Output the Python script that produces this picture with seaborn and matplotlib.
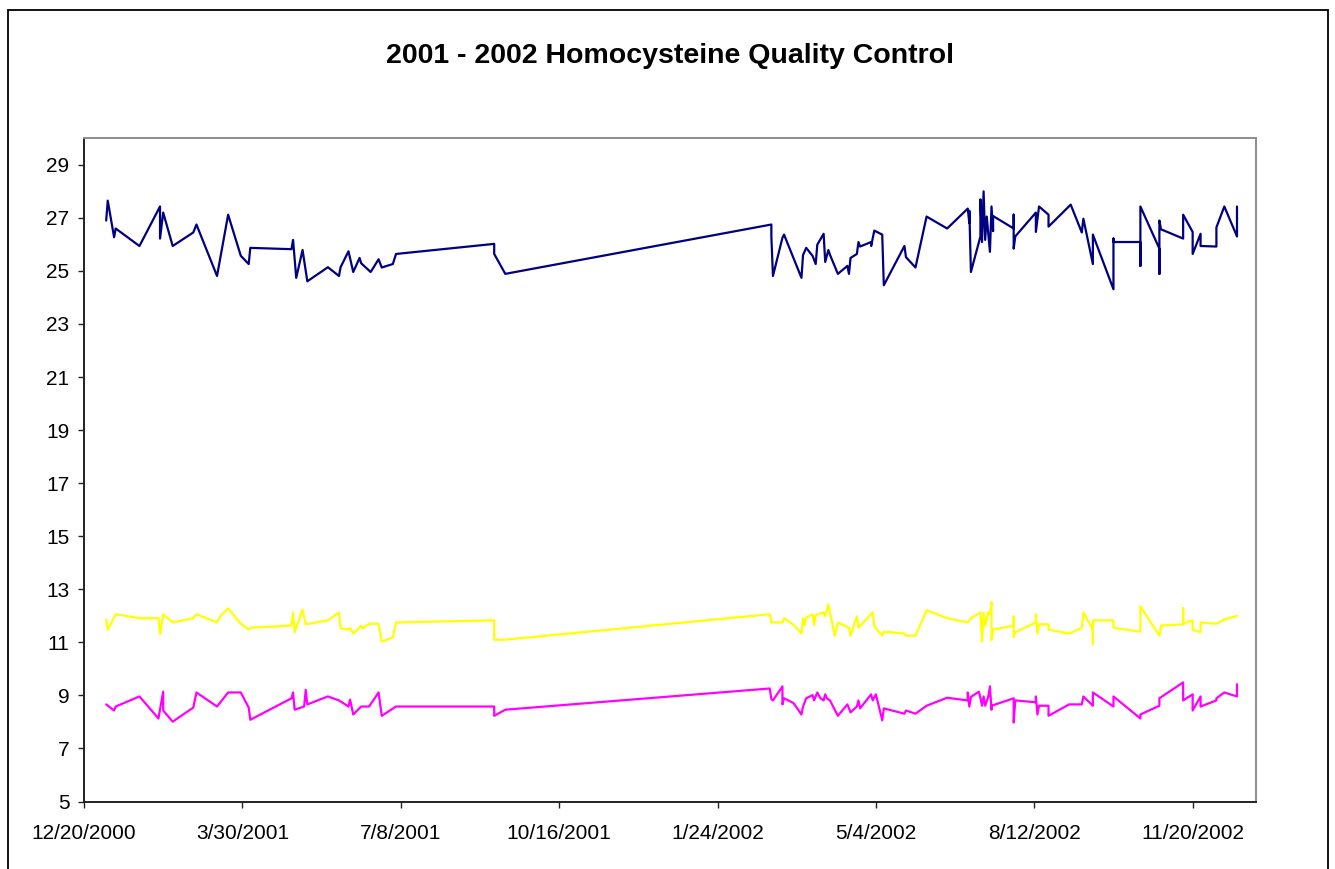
import matplotlib
matplotlib.use("Agg")
import matplotlib.pyplot as plt
import seaborn as sns
import pandas as pd
import numpy as np
from matplotlib.patches import Rectangle

# ---------------- data (days since 12/20/2000, values) ----------------
start_date = "2000-12-20"

high_days = [14, 15, 19, 20, 35, 48, 48, 50, 56, 69, 71, 84, 91, 99, 104, 105,
             131, 132, 134, 138, 141, 154, 161, 162, 167, 170, 174, 175, 181, 186,
             188, 195, 197, 259, 259, 266, 434, 434, 435, 441, 442, 453, 454, 456,
             460, 462, 463, 467, 468, 470, 471, 476, 482, 483, 484, 488, 489, 490,
             497, 497, 499, 504, 505, 518, 519, 525, 532, 545, 558, 559, 559, 560,
             566, 566, 567, 568, 569, 570, 572, 573, 574, 574, 587, 587, 587, 588,
             601, 601, 603, 609, 609, 623, 630, 631, 637, 637, 650, 650, 650, 667,
             667, 667, 679, 679, 679, 680, 694, 694, 700, 700, 705, 705, 715, 715,
             720, 728, 728]
high_vals = [26.9, 27.65, 26.27, 26.6, 25.94, 27.43, 26.22, 27.2, 25.94, 26.45, 26.75,
             24.81, 27.12, 25.57, 25.26, 25.87, 25.82, 26.17, 24.74, 25.79, 24.61,
             25.14, 24.81, 25.14, 25.74, 24.96, 25.49, 25.29, 24.96, 25.44, 25.13,
             25.26, 25.64, 26.02, 25.64, 24.89, 26.75, 26.3, 24.81, 26.25, 26.37,
             24.74, 25.6, 25.87, 25.57, 25.26, 25.99, 26.4, 25.34, 25.79, 25.61,
             24.89, 25.19, 24.89, 25.49, 25.64, 26.09, 25.92, 26.09, 25.94, 26.52,
             26.37, 24.46, 25.94, 25.52, 25.13, 27.05, 26.6, 27.35, 26.8, 27.27,
             24.96, 26.3, 27.7, 26.09, 28.0, 26.17, 27.05, 25.72, 27.43, 26.5, 27.07,
             26.6, 27.12, 25.84, 26.3, 27.2, 26.47, 27.43, 27.12, 26.67, 27.5, 26.45,
             26.97, 25.26, 26.37, 24.31, 26.22, 26.09, 26.09, 25.19, 27.43, 25.84,
             24.89, 26.9, 26.57, 26.22, 27.12, 26.47, 25.64, 26.4, 25.94, 25.92,
             26.64, 27.43, 26.3, 27.43]

mid_days = [14, 15, 20, 35, 47, 48, 50, 56, 69, 71, 84, 86, 91, 99, 104, 105,
            131, 132, 133, 138, 140, 154, 161, 162, 167, 168, 170, 175, 176, 180,
            186, 188, 195, 197, 259, 259, 266, 433, 434, 441, 442, 448, 453, 454,
            455, 456, 460, 461, 462, 467, 468, 470, 474, 476, 483, 484, 488, 489,
            498, 499, 504, 505, 518, 519, 525, 532, 545, 558, 560, 566, 567, 568,
            569, 571, 572, 573, 573, 574, 587, 587, 587, 588, 601, 601, 602, 603,
            609, 609, 622, 630, 631, 637, 637, 637, 650, 650, 667, 667, 679, 680,
            694, 694, 694, 700, 700, 705, 705, 715, 720, 728]
mid_vals = [11.86, 11.48, 12.06, 11.91, 11.91, 11.3, 12.06, 11.75, 11.91, 12.06,
            11.75, 11.98, 12.28, 11.7, 11.48, 11.55, 11.63, 12.13, 11.38, 12.23,
            11.68, 11.83, 12.13, 11.53, 11.48, 11.55, 11.33, 11.63, 11.53, 11.7,
            11.7, 11.03, 11.18, 11.75, 11.83, 11.1, 11.1, 12.06, 11.75, 11.75,
            11.91, 11.66, 11.33, 11.91, 11.66, 11.93, 12.06, 11.66, 12.03, 12.13,
            11.98, 12.43, 11.25, 11.75, 11.55, 11.25, 11.98, 11.55, 12.13, 11.6,
            11.25, 11.4, 11.33, 11.25, 11.25, 12.21, 11.91, 11.75, 11.91, 12.13,
            11.03, 12.13, 11.63, 12.13, 12.06, 12.51, 11.08, 11.48, 11.63, 11.98,
            11.2, 11.38, 11.75, 12.06, 11.33, 11.68, 11.68, 11.48, 11.33, 11.55,
            12.13, 11.48, 10.95, 11.83, 11.83, 11.55, 11.4, 12.36, 11.25, 11.63,
            11.68, 12.28, 11.7, 11.83, 11.48, 11.38, 11.75, 11.7, 11.86, 12.0]

low_days = [14, 19, 20, 35, 47, 50, 50, 56, 69, 71, 84, 91, 99, 104, 105, 131,
            132, 133, 139, 140, 141, 154, 161, 167, 168, 170, 175, 180, 186, 188,
            197, 259, 259, 266, 433, 434, 435, 441, 441, 442, 448, 453, 454, 456,
            460, 461, 463, 465, 467, 468, 469, 471, 476, 482, 484, 488, 489, 490,
            497, 498, 500, 504, 505, 518, 519, 525, 532, 545, 558, 558, 559, 560,
            565, 566, 567, 568, 569, 571, 572, 573, 573, 587, 587, 588, 601, 601,
            602, 603, 609, 609, 622, 630, 631, 637, 637, 650, 650, 667, 667, 679,
            679, 694, 694, 700, 700, 705, 705, 715, 715, 720, 728, 728]
low_vals = [8.66, 8.43, 8.58, 8.96, 8.13, 9.14, 8.43, 8.01, 8.54, 9.11, 8.58, 9.11,
            9.11, 8.54, 8.08, 8.89, 9.11, 8.46, 8.58, 9.21, 8.66, 8.96, 8.81, 8.58,
            8.84, 8.28, 8.58, 8.58, 9.11, 8.23, 8.58, 8.58, 8.23, 8.46, 9.26, 8.86,
            8.81, 9.34, 8.66, 8.89, 8.71, 8.28, 8.58, 8.89, 9.01, 8.81, 9.11, 8.89,
            8.81, 9.04, 8.89, 8.81, 8.23, 8.66, 8.36, 8.58, 8.81, 8.51, 9.04, 8.81,
            9.04, 8.06, 8.51, 8.31, 8.43, 8.31, 8.61, 8.91, 8.81, 9.11, 8.58, 8.94,
            9.14, 8.91, 8.61, 8.96, 8.61, 8.96, 9.34, 8.46, 8.61, 8.89, 7.98, 8.81,
            8.74, 8.96, 8.28, 8.61, 8.61, 8.23, 8.66, 8.66, 8.96, 8.61, 9.11, 8.58,
            8.96, 8.13, 8.28, 8.61, 8.89, 9.49, 8.81, 9.04, 8.43, 8.96, 8.58, 8.81,
            8.89, 9.11, 8.96, 9.42]

x_tick_labels = ["12/20/2000", "3/30/2001", "7/8/2001", "10/16/2001", "1/24/2002",
                 "5/4/2002", "8/12/2002", "11/20/2002"]
x_max_date = "12/30/2002"
y_ticks = [5, 7, 9, 11, 13, 15, 17, 19, 21, 23, 25, 27, 29]
y_limits = (5, 30)
title = "2001 - 2002 Homocysteine Quality Control"

series = [("High", high_days, high_vals, "#000080"),
          ("Mid", mid_days, mid_vals, "#FFFF00"),
          ("Low", low_days, low_vals, "#FF00FF")]

# ---------------- plotting ----------------
sns.set_style("white")
plt.rcParams["font.family"] = ["Liberation Sans", "DejaVu Sans"]

W, H = 1335, 869
fig = plt.figure(figsize=(W / 100, H / 100), dpi=100)
fig.patch.set_facecolor("white")
ax = fig.add_axes([84 / W, 1 - 801.5 / H, (1256 - 84) / W, (801.5 - 138.3) / H])

t0 = pd.Timestamp(start_date)
for name, days, vals, color in series:
    df = pd.DataFrame({"date": t0 + pd.to_timedelta(days, unit="D"), "value": vals})
    sns.lineplot(data=df, x="date", y="value", sort=False, estimator=None,
                 color=color, linewidth=1.6, ax=ax, legend=False)

tick_dates = pd.to_datetime(x_tick_labels, format="%m/%d/%Y")
ax.set_xlim(tick_dates[0], pd.to_datetime(x_max_date, format="%m/%d/%Y"))
ax.set_xticks(tick_dates)
ax.set_xticklabels(x_tick_labels)
ax.set_ylim(*y_limits)
ax.set_yticks(y_ticks)
ax.set_yticklabels([str(v) for v in y_ticks])
ax.set_xlabel("")
ax.set_ylabel("")
ax.grid(False)

for side in ("left", "bottom"):
    ax.spines[side].set_color("#222222")
    ax.spines[side].set_linewidth(1.4)
for side in ("top", "right"):
    ax.spines[side].set_color("#8c8c8c")
    ax.spines[side].set_linewidth(1.4)

ax.tick_params(axis="both", which="major", direction="out", length=4.5, width=1.0,
               color="#222222", labelsize=15, labelcolor="black")
ax.tick_params(axis="x", pad=12, bottom=True)
ax.tick_params(axis="y", pad=6, left=True)

fig.text(670 / W, 1 - 56 / H, title, ha="center", va="center",
         fontsize=20.5, fontweight="bold", color="black")

# outer chart border
border = Rectangle((7.5 / W, -0.05), (1328.3 - 7.5) / W, (1 - 10 / H) + 0.05,
                   transform=fig.transFigure, fill=False, edgecolor="black",
                   linewidth=1.3, clip_on=False)
fig.patches.append(border)

fig.savefig("out.png", dpi=100, facecolor="white")
